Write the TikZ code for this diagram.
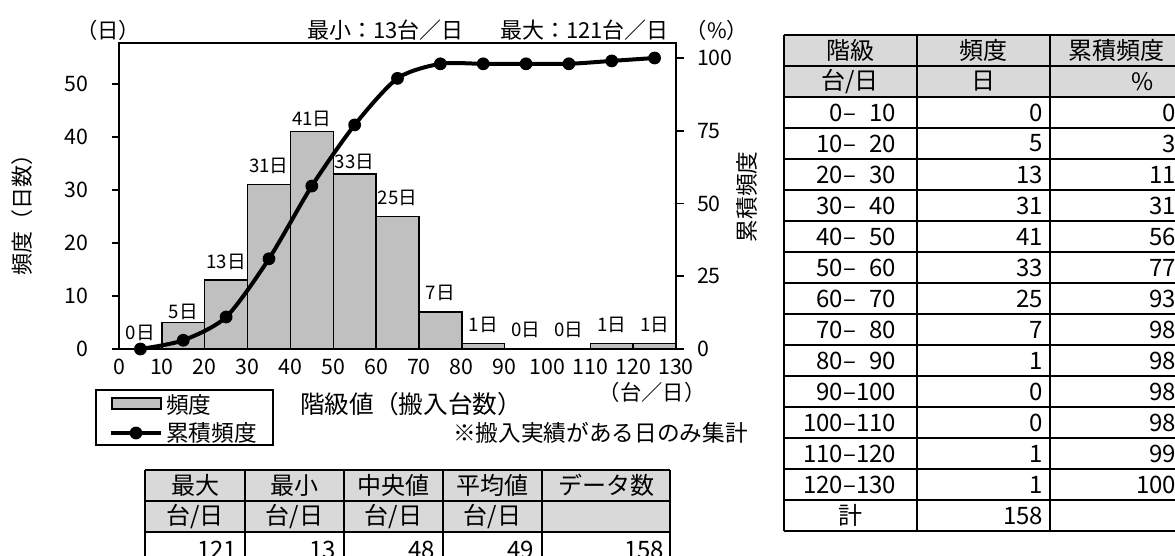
\documentclass[tikz,border=0pt]{standalone}
\usepackage{fontspec}
\setmainfont{Noto Sans CJK JP}
\definecolor{barfill}{HTML}{C0C0C0}
\definecolor{headfill}{HTML}{D9D9D9}
\newcommand{\fs}[1]{\fontsize{#1}{#1}\selectfont}
\newcommand{\ph}{\phantom{0}}
\begin{document}
\begin{tikzpicture}[x=0.75pt,y=-0.75pt,
  every node/.style={inner sep=0pt, outer sep=0pt},
  barbox/.style={draw=black, line width=1.1pt, fill=barfill},
  cumline/.style={line width=3pt, line join=round},
  frameline/.style={line width=1.2pt},
  gridline/.style={line width=1.5pt},
  ticklbl/.style={font=\fs{16pt}},
  datalbl/.style={font=\fs{14pt}},
  celltxt/.style={font=\fs{18pt}},
  legtxt/.style={font=\fs{17pt}, anchor=west},
]
\useasboundingbox (0,0) rectangle (1175,556);
\fill[white] (0,0) rectangle (1175,556);
\clip (0,0) rectangle (1175,556);

% ---------- histogram bars ----------
\foreach \i/\fq in {0/0,1/5,2/13,3/31,4/41,5/33,6/25,7/7,8/1,9/0,10/0,11/1,12/1}{
  \ifnum\fq>0
    \draw[barbox] ({119+42.846*\i},349) rectangle ({119+42.846*(\i+1)},{349-5.3*\fq});
  \fi
}
% data labels
\foreach \i/\fq/\yy in {0/0/333,1/5/312,2/13/262,3/31/166,4/41/119,5/33/162,6/25/198,7/7/293,8/1/325,9/0/330,10/0/330,11/1/325,12/1/325}{
  \node[datalbl] (dl\i) at ({119+42.846*(\i+0.5)},\yy) {\fq 日};
}

% ---------- frame and ticks ----------
\draw[frameline] (119,43) rectangle (676,349);
\foreach \k/\v in {0/0,1/10,2/20,3/30,4/40,5/50}{
  \draw[frameline] (112,{349-53*\k}) -- (119,{349-53*\k});
  \node[ticklbl, anchor=east] (yl\k) at (88,{349-53*\k}) {\v};
}
\foreach \k/\v in {0/0,1/25,2/50,3/75,4/100}{
  \draw[frameline] (676,{349-72.75*\k}) -- (684,{349-72.75*\k});
  \node[ticklbl, anchor=west] (yr\k) at (697,{349-72.75*\k}) {\v};
}
\foreach \k/\v in {0/0,1/10,2/20,3/30,4/40,5/50,6/60,7/70,8/80,9/90,10/100,11/110,12/120,13/130}{
  \node[ticklbl] (xl\k) at ({119+42.846*\k},367) {\v};
}

% ---------- cumulative line ----------
\foreach \i/\c in {0/0,1/3,2/11,3/31,4/56,5/77,6/93,7/98,8/98,9/98,10/98,11/99,12/100}{
  \coordinate (p\i) at ({119+42.846*(\i+0.5)},{349-2.91*\c});
}
\draw[cumline] plot[smooth, tension=0.45] coordinates {(p0) (p1) (p2) (p3) (p4) (p5) (p6) (p7) (p8) (p9) (p10) (p11) (p12)};
\foreach \i in {0,...,12}{ \fill (p\i) circle[radius=4.8pt]; }

% ---------- chart texts ----------
\node[font=\fs{16pt}] (unitL) at (108,30) {（日）};
\node[font=\fs{16.5pt}, anchor=west] (tmin) at (307,30) {最小：13台／日};
\node[font=\fs{16.5pt}, anchor=west] (tmax) at (500,30) {最大：121台／日};
\node[font=\fs{16pt}] (unitR) at (717,30) {（\%）};
\node[font=\fs{16.5pt}, rotate=90] (ylab) at (22,210) {頻度（日数）};
\node[font=\fs{17pt}, rotate=90] (yrlab) at (747,197) {累積頻度};
\node[font=\fs{18.5pt}, anchor=west] (xlab) at (300,404) {階級値（搬入台数）};
\node[font=\fs{16pt}] (xunit) at (652,392) {（台／日）};
\node[font=\fs{17pt}, anchor=west] (note) at (453,433) {※搬入実績がある日のみ集計};

% ---------- legend ----------
\draw[frameline] (96,390) rectangle (273,445);
\draw[barbox] (112,398) rectangle (161,409);
\node[legtxt] (lg1) at (166,405) {頻度};
\coordinate (la) at (111,433);
\coordinate (lb) at (161,433);
\coordinate (lc) at (136,433);
\draw[cumline] (la) -- (lb);
\fill (lc) circle[radius=4.8pt];
\node[legtxt] (lg2) at (166,433) {累積頻度};

% ---------- right table ----------
\fill[headfill] (784,35) rectangle (1183,97);
\foreach \k in {0,...,16}{ \draw[gridline] (784,{35+31*\k}) -- (1183,{35+31*\k}); }
\foreach \x in {784,917,1050,1183}{ \draw[gridline] (\x,35) -- (\x,531); }
\node[celltxt] (h1) at (850,50.5) {階級};
\node[celltxt] (h2) at (983,50.5) {頻度};
\node[celltxt] (h3) at (1116,50.5) {累積頻度};
\node[celltxt] (u1) at (850,81.5) {台/日};
\node[celltxt] (u2) at (983,81.5) {日};
\node[celltxt] (u3) at (1143,81.5) {\%};
\foreach \k/\lo/\hi/\fq/\c in {0/0/10/0/0,1/10/20/5/3,2/20/30/13/11,3/30/40/31/31,4/40/50/41/56,5/50/60/33/77,6/60/70/25/93,7/70/80/7/98,8/80/90/1/98,9/90/100/0/98,10/100/110/0/98,11/110/120/1/99,12/120/130/1/100}{
  \node[celltxt, anchor=east] (ra\k) at (896,{112.5+31*\k}) {\ifnum\lo<10 \ph\fi\lo–\ifnum\hi<100 \ph\fi\hi};
  \node[celltxt, anchor=east] (rf\k) at (1043,{112.5+31*\k}) {\fq};
  \node[celltxt, anchor=east] (rc\k) at (1176,{112.5+31*\k}) {\c};
}
\node[celltxt] (tot) at (850,515.5) {計};
\node[celltxt, anchor=east] (totv) at (1043,515.5) {158};

% ---------- bottom table ----------
\fill[headfill] (145,470) rectangle (670,532);
\foreach \y in {470,501,532,563}{ \draw[gridline] (145,\y) -- (670,\y); }
\foreach \x in {145,245,344,443,542,670}{ \draw[gridline] (\x,470) -- (\x,563); }
\node[celltxt] (b1) at (195,485.5) {最大};
\node[celltxt] (b2) at (294.5,485.5) {最小};
\node[celltxt] (b3) at (393.5,485.5) {中央値};
\node[celltxt] (b4) at (492.5,485.5) {平均値};
\node[celltxt] (b5) at (606,485.5) {データ数};
\node[celltxt] (c1) at (195,516.5) {台/日};
\node[celltxt] (c2) at (294.5,516.5) {台/日};
\node[celltxt] (c3) at (393.5,516.5) {台/日};
\node[celltxt] (c4) at (492.5,516.5) {台/日};
\node[celltxt, anchor=east] (v1) at (237,550) {121};
\node[celltxt, anchor=east] (v2) at (336,550) {13};
\node[celltxt, anchor=east] (v3) at (435,550) {48};
\node[celltxt, anchor=east] (v4) at (534,550) {49};
\node[celltxt, anchor=east] (v5) at (664,550) {158};
\end{tikzpicture}
\end{document}
